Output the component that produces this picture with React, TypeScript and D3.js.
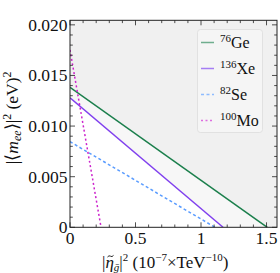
import * as d3 from 'd3';

// isotopes, intercepts
const isotopes = ['76Ge', '136Xe', '82Se', '100Mo'];
const massNumbers = ['76', '136', '82', '100'];
const elements = ['Ge', 'Xe', 'Se', 'Mo'];
const yIntercepts = [0.01383, 0.0128, 0.00846, 0.01752]; // |<m_ee>|^2 at eta = 0
const xIntercepts = [1.506, 1.168, 1.107, 0.237]; // eta^2 at m_ee = 0
const colors = ['#1b7f4c', '#8040ee', '#5a9cff', '#cc22cc'];
const legendColors = ['#6fae8e', '#a57ef4', '#8ebcff', '#dd6ee0'];
const dashes = [null, null, '3,2.5', '2,2.5'];

const xMajor = [0, 0.5, 1, 1.5];
const xLabels = ['0', '0.5', '1', '1.5'];
const yMajor = [0, 0.005, 0.01, 0.015, 0.02];
const yLabels = ['0', '0.005', '0.010', '0.015', '0.020'];

const W = 280, H = 273;
const m = { left: 70, right: 3, top: 20.3, bottom: 45.7 };
const serif = "'Liberation Serif', 'Times New Roman', Times, serif";

export default function App() {
  const x = d3.scaleLinear().domain([0, 1.58]).range([m.left, W - m.right]);
  const y = d3.scaleLinear().domain([0, 0.02045]).range([H - m.bottom, m.top]);
  const [x0, x1] = x.range();
  const [y0, y1] = y.range();

  const xMinor = d3.range(0, 1.58, 0.1);
  const yMinor = d3.range(0, 0.0204, 0.001);

  // excluded regions: above the Xe line (light) and the Ge line (darker)
  const region = (i: number) =>
    `M${x(0)},${y(yIntercepts[i])} L${x(xIntercepts[i])},${y(0)} L${x1},${y0} L${x1},${y1} L${x0},${y1} Z`;

  const line = d3.line<[number, number]>().x(d => x(d[0])).y(d => y(d[1]));

  const xt = 102; // start of x title

  return (
    <div>
      <style>{'body{margin:0} svg text{font-family:' + serif + '}'}</style>
      <svg width={W} height={H} style={{ display: 'block' }} fontFamily={serif}>
        <rect width={W} height={H} fill="#fff" />
        <clipPath id="plot">
          <rect x={x0} y={y1} width={x1 - x0} height={y0 - y1} />
        </clipPath>
        <g clipPath="url(#plot)">
          <path d={region(1)} fill="#f7f7f7" />
          <path d={region(0)} fill="#f0f0f0" />
          {isotopes.map((iso, i) => (
            <path
              key={iso}
              d={line([[0, yIntercepts[i]], [xIntercepts[i], 0]]) || ''}
              fill="none"
              stroke={colors[i]}
              strokeWidth={1.5}
              strokeDasharray={dashes[i] || undefined}
            />
          ))}
        </g>

        {/* frame and inward ticks on all sides */}
        <rect x={x0} y={y1} width={x1 - x0} height={y0 - y1} fill="none" stroke="#222" strokeWidth={1} />
        <g stroke="#222" strokeWidth={0.8}>
          {xMinor.map(v => {
            const major = xMajor.some(t => Math.abs(t - v) < 1e-6);
            const len = major ? 5 : 2.8;
            return (
              <g key={'x' + v}>
                <line x1={x(v)} x2={x(v)} y1={y0} y2={y0 - len} />
                <line x1={x(v)} x2={x(v)} y1={y1} y2={y1 + len} />
              </g>
            );
          })}
          {yMinor.map(v => {
            const major = yMajor.some(t => Math.abs(t - v) < 1e-9);
            const len = major ? 5 : 2.8;
            return (
              <g key={'y' + v}>
                <line x1={x0} x2={x0 + len} y1={y(v)} y2={y(v)} />
                <line x1={x1} x2={x1 - len} y1={y(v)} y2={y(v)} />
              </g>
            );
          })}
        </g>

        {/* tick labels */}
        <g fontSize={17.5} fill="#111">
          {xMajor.map((v, i) => (
            <text key={v} x={x(v)} y={y0 + 17} textAnchor="middle">{xLabels[i]}</text>
          ))}
          {yMajor.map((v, i) => (
            <text key={v} x={x0 - 2.5} y={y(v) + 6} textAnchor="end">{yLabels[i]}</text>
          ))}
        </g>

        {/* axis titles */}
        <text x={xt} y={268} fontSize={17} fill="#111">
          |<tspan fontStyle="italic">η</tspan>
          <tspan fontSize={11} dy={3} fontStyle="italic">ḡ</tspan>
          <tspan dy={-3}>|</tspan>
          <tspan fontSize={11} dy={-7}>2</tspan>
          <tspan dy={7}> (10</tspan>
          <tspan fontSize={11} dy={-7}>−7</tspan>
          <tspan dy={7}>×TeV</tspan>
          <tspan fontSize={11} dy={-7}>−10</tspan>
          <tspan dy={7}>)</tspan>
        </text>
        {/* tilde over eta */}
        <path d={`M${xt + 5.5},${257} q1.5,-2 3,-0.8 t3,-0.8`} fill="none" stroke="#111" strokeWidth={0.9} />
        <text transform={`translate(18,${(y0 + y1) / 2 - 6}) rotate(-90)`} textAnchor="middle" fontSize={17.5} fill="#111">
          |⟨<tspan fontStyle="italic">m</tspan>
          <tspan fontSize={12} dy={3} fontStyle="italic">ee</tspan>
          <tspan dy={-3}>⟩|</tspan>
          <tspan fontSize={12} dy={-7.5}>2</tspan>
          <tspan dy={7.5}> (eV)</tspan>
          <tspan fontSize={12} dy={-7.5}>2</tspan>
        </text>

        {/* legend */}
        <g>
          <rect x={197.5} y={29.5} width={65} height={103} rx={3} fill="#f5f5f5" stroke="#dcdcdc" strokeWidth={0.8} />
          {isotopes.map((iso, i) => {
            const ly = 42.5 + i * 26;
            return (
              <g key={iso}>
                <line x1={201} x2={214} y1={ly} y2={ly} stroke={legendColors[i]} strokeWidth={1.5} strokeDasharray={dashes[i] || undefined} />
                <text x={220} y={ly + 5.5} fontSize={16} fill="#111">
                  <tspan fontSize={11} dy={-6}>{massNumbers[i]}</tspan>
                  <tspan dy={6}>{elements[i]}</tspan>
                </text>
              </g>
            );
          })}
        </g>
      </svg>
    </div>
  );
}
